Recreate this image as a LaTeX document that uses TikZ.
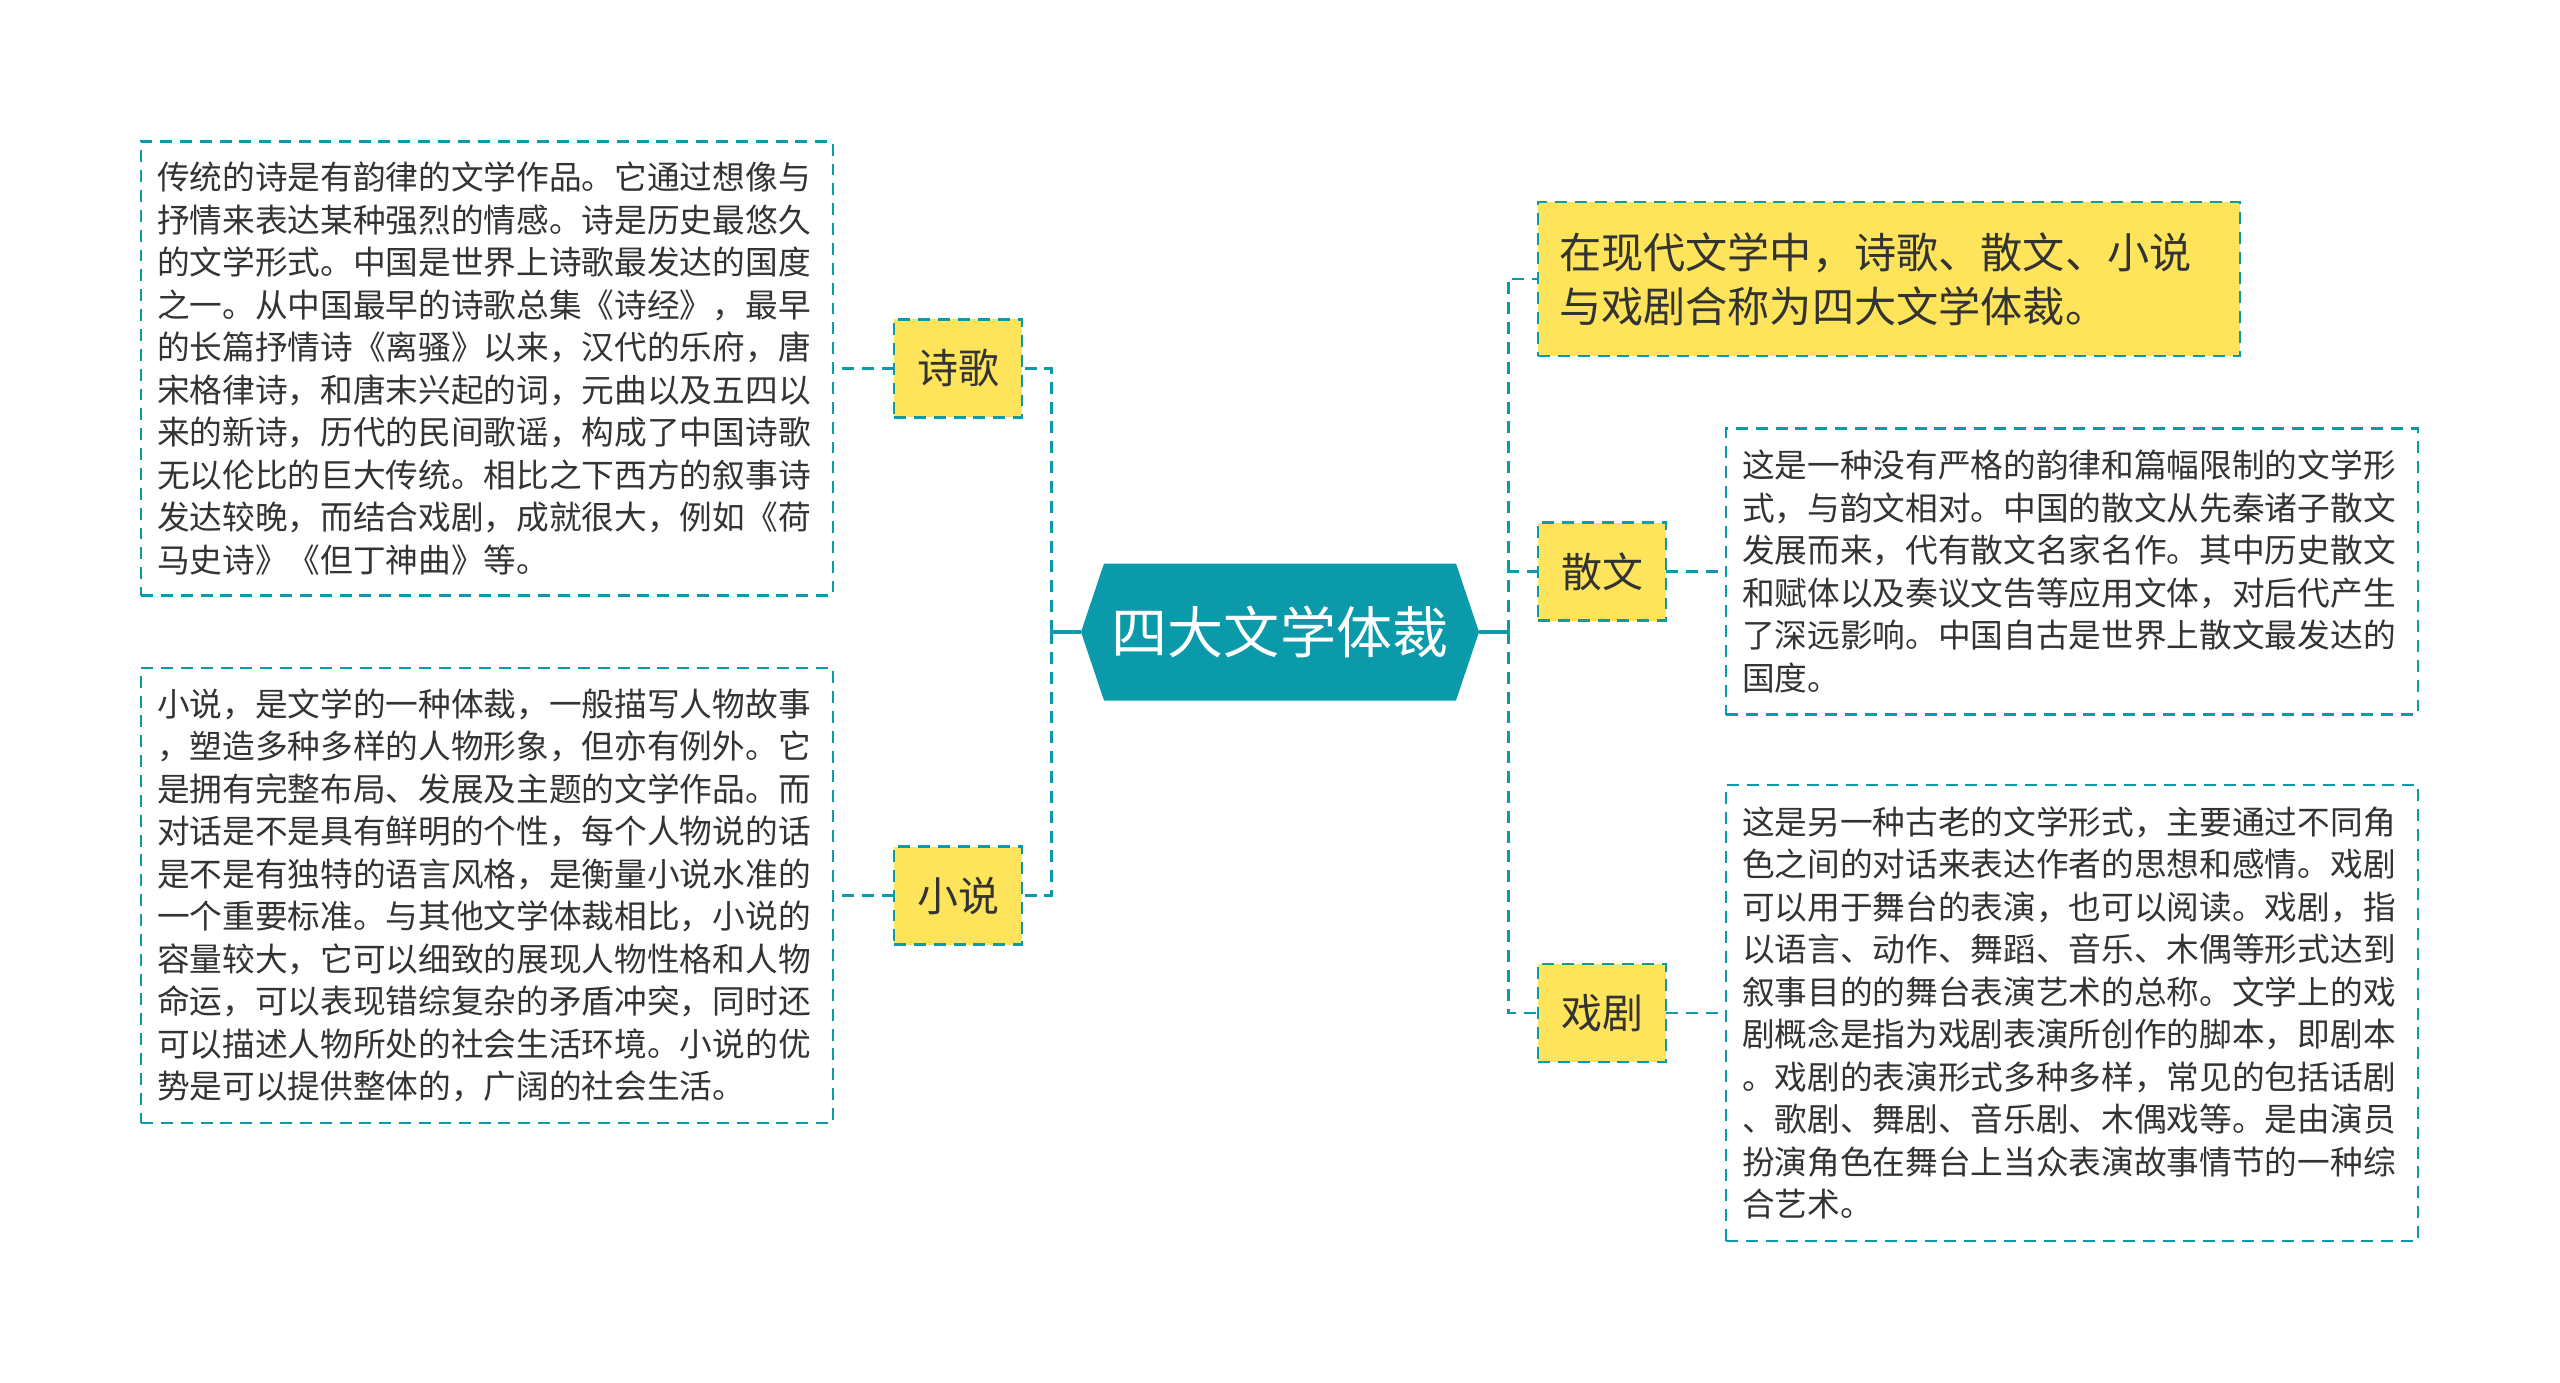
\documentclass[tikz,border=0pt]{standalone}
\usepackage{fontspec}
\setmainfont{Noto Sans CJK SC}
\usepackage{tikz}
\usetikzlibrary{
    positioning,
    calc,
    backgrounds
}
\usepackage{xcolor}

\definecolor{mapteal}{RGB}{10,154,170}
\definecolor{mapyellow}{RGB}{253,228,90}
\definecolor{maptext}{RGB}{51,51,51}

\begin{document}
\begin{tikzpicture}[
            topicbox/.style={
                rectangle,
                text=white,
                inner sep=0pt,
                outer sep=0pt,
                minimum width=7.96cm,
                minimum height=2.74cm,
                font=\fontsize{31.9pt}{36pt}\selectfont
            },
            genrebox/.style={
                draw=mapteal,
                fill=mapyellow,
                text=maptext,
                dash pattern=on 6.8pt off 4.5pt,
                line width=1.6pt,
                inner sep=0pt,
                outer sep=0pt,
                minimum width=2.56cm,
                minimum height=1.96cm,
                font=\fontsize{23.3pt}{28pt}\selectfont
            },
            summarybox/.style={
                genrebox,
                align=left,
                text width=13.2cm,
                inner xsep=0.42cm,
                minimum width=14.04cm,
                minimum height=3.08cm,
                font=\fontsize{24pt}{30.7pt}\selectfont
            },
            notebox/.style={
                draw=mapteal,
                fill=white,
                text=maptext,
                dash pattern=on 6.8pt off 4.5pt,
                line width=1.4pt,
                align=left,
                text width=13.2cm,
                inner xsep=0.32cm,
                inner ysep=0pt,
                outer sep=0pt,
                font=\fontsize{18.6pt}{24.19pt}\selectfont
            },
            branch/.style={
                draw=mapteal,
                dash pattern=on 6.8pt off 4.5pt,
                line width=1.7pt
            },
            stem/.style={
                draw=mapteal,
                line width=2.2pt
            }
            ]

            \useasboundingbox (0,0) rectangle (51.2,-27.66);

            \node[topicbox] (topic) at (25.6,-12.64) {四大文学体裁};

            % hexagon behind the title
            \begin{scope}[on background layer]
                \fill[mapteal]
                (topic.west) --
                ($(topic.north west)+(0.46,0)$) --
                ($(topic.north east)+(-0.46,0)$) --
                (topic.east) --
                ($(topic.south east)+(-0.46,0)$) --
                ($(topic.south west)+(0.46,0)$) -- cycle;
            \end{scope}

            % left side
            \node[genrebox] (shige) at (19.16,-7.37) {诗歌};

            \node[genrebox, below=8.58cm of shige] (xiaoshuo) {小说};

            \node[notebox, minimum height=9.08cm, left=1.22cm of shige] (shigetext)
            {传统的诗是有韵律的文学作品。它通过想像与\\
                抒情来表达某种强烈的情感。诗是历史最悠久\\
                的文学形式。中国是世界上诗歌最发达的国度\\
                之一。从中国最早的诗歌总集《诗经》，最早\\
                的长篇抒情诗《离骚》以来，汉代的乐府，唐\\
                宋格律诗，和唐末兴起的词，元曲以及五四以\\
                来的新诗，历代的民间歌谣，构成了中国诗歌\\
                无以伦比的巨大传统。相比之下西方的叙事诗\\
                发达较晚，而结合戏剧，成就很大，例如《荷\\
                马史诗》《但丁神曲》等。};

            \node[notebox, minimum height=9.1cm, left=1.22cm of xiaoshuo] (xiaoshuotext)
            {小说，是文学的一种体裁，一般描写人物故事\\
                ，塑造多种多样的人物形象，但亦有例外。它\\
                是拥有完整布局、发展及主题的文学作品。而\\
                对话是不是具有鲜明的个性，每个人物说的话\\
                是不是有独特的语言风格，是衡量小说水准的\\
                一个重要标准。与其他文学体裁相比，小说的\\
                容量较大，它可以细致的展现人物性格和人物\\
                命运，可以表现错综复杂的矛盾冲突，同时还\\
                可以描述人物所处的社会生活环境。小说的优\\
                势是可以提供整体的，广阔的社会生活。};

            % right side
            \node[summarybox, anchor=west] (summary) at (30.76,-5.58)
            {在现代文学中，诗歌、散文、小说\\
                与戏剧合称为四大文学体裁。};

            \node[genrebox, anchor=west] (sanwen) at (30.76,-11.43) {散文};

            \node[genrebox, anchor=west] (xiju) at (30.76,-20.26) {戏剧};

            \node[notebox, minimum height=5.72cm, right=1.2cm of sanwen] (sanwentext)
            {这是一种没有严格的韵律和篇幅限制的文学形\\
                式，与韵文相对。中国的散文从先秦诸子散文\\
                发展而来，代有散文名家名作。其中历史散文\\
                和赋体以及奏议文告等应用文体，对后代产生\\
                了深远影响。中国自古是世界上散文最发达的\\
                国度。};

            \node[notebox, minimum height=9.12cm, right=1.2cm of xiju] (xijutext)
            {这是另一种古老的文学形式，主要通过不同角\\
                色之间的对话来表达作者的思想和感情。戏剧\\
                可以用于舞台的表演，也可以阅读。戏剧，指\\
                以语言、动作、舞蹈、音乐、木偶等形式达到\\
                叙事目的的舞台表演艺术的总称。文学上的戏\\
                剧概念是指为戏剧表演所创作的脚本，即剧本\\
                。戏剧的表演形式多种多样，常见的包括话剧\\
                、歌剧、舞剧、音乐剧、木偶戏等。是由演员\\
                扮演角色在舞台上当众表演故事情节的一种综\\
                合艺术。};

            \coordinate (ljoin) at ($(topic.west)+(-0.6,0)$);
            \coordinate (rjoin) at ($(topic.east)+(0.58,0)$);

            \draw[stem] (topic.west) -- (ljoin);
            \draw[stem] (topic.east) -- (rjoin);

            \draw[branch] (ljoin) |- (shige.east);
            \draw[branch] (ljoin) |- (xiaoshuo.east);
            \draw[branch] (rjoin) |- (summary.west);
            \draw[branch] (rjoin) |- (sanwen.west);
            \draw[branch] (rjoin) |- (xiju.west);

            \draw[branch] (shige.west) -- (shigetext.east);
            \draw[branch] (xiaoshuo.west) -- (xiaoshuotext.east);
            \draw[branch] (sanwen.east) -- (sanwentext.west);
            \draw[branch] (xiju.east) -- (xijutext.west);

        \end{tikzpicture}
\end{document}
